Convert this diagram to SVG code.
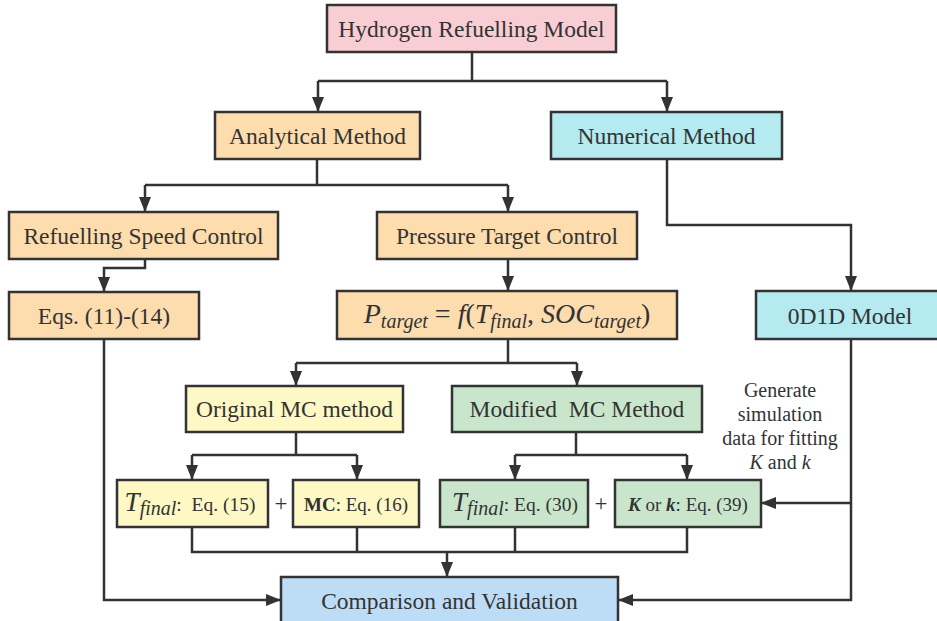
<svg xmlns="http://www.w3.org/2000/svg" width="937" height="621" viewBox="0 0 937 621">
<style>
.box{stroke:#333;stroke-width:2.5}
.t{font-family:"Liberation Serif","Times New Roman",serif;font-size:23.5px;fill:#333;text-anchor:middle}
.m{font-family:"Liberation Serif","Times New Roman",serif;fill:#333}
.n{font-family:"Liberation Serif","Times New Roman",serif;font-size:20px;fill:#333;text-anchor:middle}
.c{fill:none;stroke:#333;stroke-width:2.5}
.pink{fill:#f9cdd4}.peach{fill:#fddcae}.cyan{fill:#b4eaf0}.yellow{fill:#fdf8c4}.green{fill:#c9e6cc}.blue{fill:#bddcf6}
</style>
<defs>
<marker id="ah" markerUnits="userSpaceOnUse" markerWidth="16" markerHeight="12" refX="15" refY="6" orient="auto">
<path d="M0,0 L15,6 L0,12 Z" fill="#333"/>
</marker>
</defs>
<g id="connectors">
<path class="c" d="M472,52 V81 M318,81 H667"/>
<path class="c" d="M318,81 V112" marker-end="url(#ah)"/>
<path class="c" d="M667,81 V112" marker-end="url(#ah)"/>
<path class="c" d="M317,159 V185 M145,185 H508"/>
<path class="c" d="M145,185 V212" marker-end="url(#ah)"/>
<path class="c" d="M508,185 V212" marker-end="url(#ah)"/>
<path class="c" d="M667,159 V225 H851 V291" marker-end="url(#ah)"/>
<path class="c" d="M145,259 V268 H104 V292" marker-end="url(#ah)"/>
<path class="c" d="M508,259 V291" marker-end="url(#ah)"/>
<path class="c" d="M508,339 V363 M296,363 H577"/>
<path class="c" d="M296,363 V386" marker-end="url(#ah)"/>
<path class="c" d="M577,363 V386" marker-end="url(#ah)"/>
<path class="c" d="M296,432 V455 M192,455 H357"/>
<path class="c" d="M192,455 V480" marker-end="url(#ah)"/>
<path class="c" d="M357,455 V480" marker-end="url(#ah)"/>
<path class="c" d="M576,432 V455 M515,455 H687"/>
<path class="c" d="M515,455 V480" marker-end="url(#ah)"/>
<path class="c" d="M687,455 V480" marker-end="url(#ah)"/>
<path class="c" d="M192,527 V552 H687 V527 M357,527 V552 M515,527 V552"/>
<path class="c" d="M447,552 V577" marker-end="url(#ah)"/>
<path class="c" d="M104,339 V600 H281" marker-end="url(#ah)"/>
<path class="c" d="M851,339 V600 H618" marker-end="url(#ah)"/>
<path class="c" d="M851,503 H761" marker-end="url(#ah)"/>
</g>
<g id="hydrogen">
<rect class="box pink" x="327" y="5" width="289" height="47"/>
<text class="t" x="471.5" y="37">Hydrogen Refuelling Model</text>
</g>
<g id="analytical">
<rect class="box peach" x="215" y="112" width="205" height="47"/>
<text class="t" x="317.5" y="144">Analytical Method</text>
</g>
<g id="numerical">
<rect class="box cyan" x="551" y="112" width="231" height="47"/>
<text class="t" x="666.5" y="144">Numerical Method</text>
</g>
<g id="rsc">
<rect class="box peach" x="9" y="212" width="269" height="47"/>
<text class="t" x="143.5" y="244">Refuelling Speed Control</text>
</g>
<g id="ptc">
<rect class="box peach" x="377" y="212" width="260" height="47"/>
<text class="t" x="507" y="244">Pressure Target Control</text>
</g>
<g id="eqs">
<rect class="box peach" x="9" y="292" width="190" height="47"/>
<text class="t" x="104" y="324">Eqs. (11)-(14)</text>
</g>
<g id="ptarget">
<rect class="box peach" x="337" y="291" width="340" height="48"/>
<text class="m" x="507" y="323" text-anchor="middle" font-size="28"><tspan font-style="italic">P</tspan><tspan font-style="italic" font-size="20" dy="5">target</tspan><tspan dy="-5"> = </tspan><tspan font-style="italic">f</tspan><tspan>(</tspan><tspan font-style="italic">T</tspan><tspan font-style="italic" font-size="20" dy="5">final</tspan><tspan dy="-5">, </tspan><tspan font-style="italic">SOC</tspan><tspan font-style="italic" font-size="20" dy="5">target</tspan><tspan dy="-5">)</tspan></text>
</g>
<g id="d0d1d">
<rect class="box cyan" x="756" y="291" width="190" height="48"/>
<text class="t" x="850" y="324">0D1D Model</text>
</g>
<g id="original">
<rect class="box yellow" x="186" y="386" width="217" height="46"/>
<text class="t" x="294.5" y="417">Original MC method</text>
</g>
<g id="modified">
<rect class="box green" x="452" y="386" width="250" height="46"/>
<text class="t" x="577" y="417" xml:space="preserve">Modified  MC Method</text>
</g>
<g id="tfinal15">
<rect class="box yellow" x="117" y="480" width="151" height="47"/>
<text class="m" x="190" y="511" text-anchor="middle" font-size="19.5"><tspan font-style="italic" font-size="27">T</tspan><tspan font-style="italic" font-size="20" dy="4">final</tspan><tspan dy="-4" xml:space="preserve">:  Eq. (15)</tspan></text>
</g>
<text class="m" x="281" y="511" text-anchor="middle" font-size="23">+</text>
<g id="mc16">
<rect class="box yellow" x="293" y="480" width="126" height="47"/>
<text class="m" x="356" y="511" text-anchor="middle" font-size="19"><tspan font-weight="bold">MC</tspan>: Eq. (16)</text>
</g>
<g id="tfinal30">
<rect class="box green" x="440" y="480" width="148" height="47"/>
<text class="m" x="515" y="511" text-anchor="middle" font-size="19.5"><tspan font-style="italic" font-size="27">T</tspan><tspan font-style="italic" font-size="20" dy="4">final</tspan><tspan dy="-4">: Eq. (30)</tspan></text>
</g>
<text class="m" x="601" y="511" text-anchor="middle" font-size="23">+</text>
<g id="k39">
<rect class="box green" x="615" y="480" width="146" height="47"/>
<text class="m" x="688" y="511" text-anchor="middle" font-size="19"><tspan font-weight="bold" font-style="italic">K</tspan> or <tspan font-weight="bold" font-style="italic">k</tspan>: Eq. (39)</text>
</g>
<g id="note">
<text class="n" x="780" y="397">Generate</text>
<text class="n" x="780" y="421">simulation</text>
<text class="n" x="780" y="445">data for fitting</text>
<text class="n" x="780" y="469"><tspan font-style="italic">K</tspan> and <tspan font-style="italic">k</tspan></text>
</g>
<g id="comparison">
<rect class="box blue" x="281" y="577" width="337" height="50"/>
<text class="t" x="449.5" y="609" font-size="24.5">Comparison and Validation</text>
</g>
</svg>
